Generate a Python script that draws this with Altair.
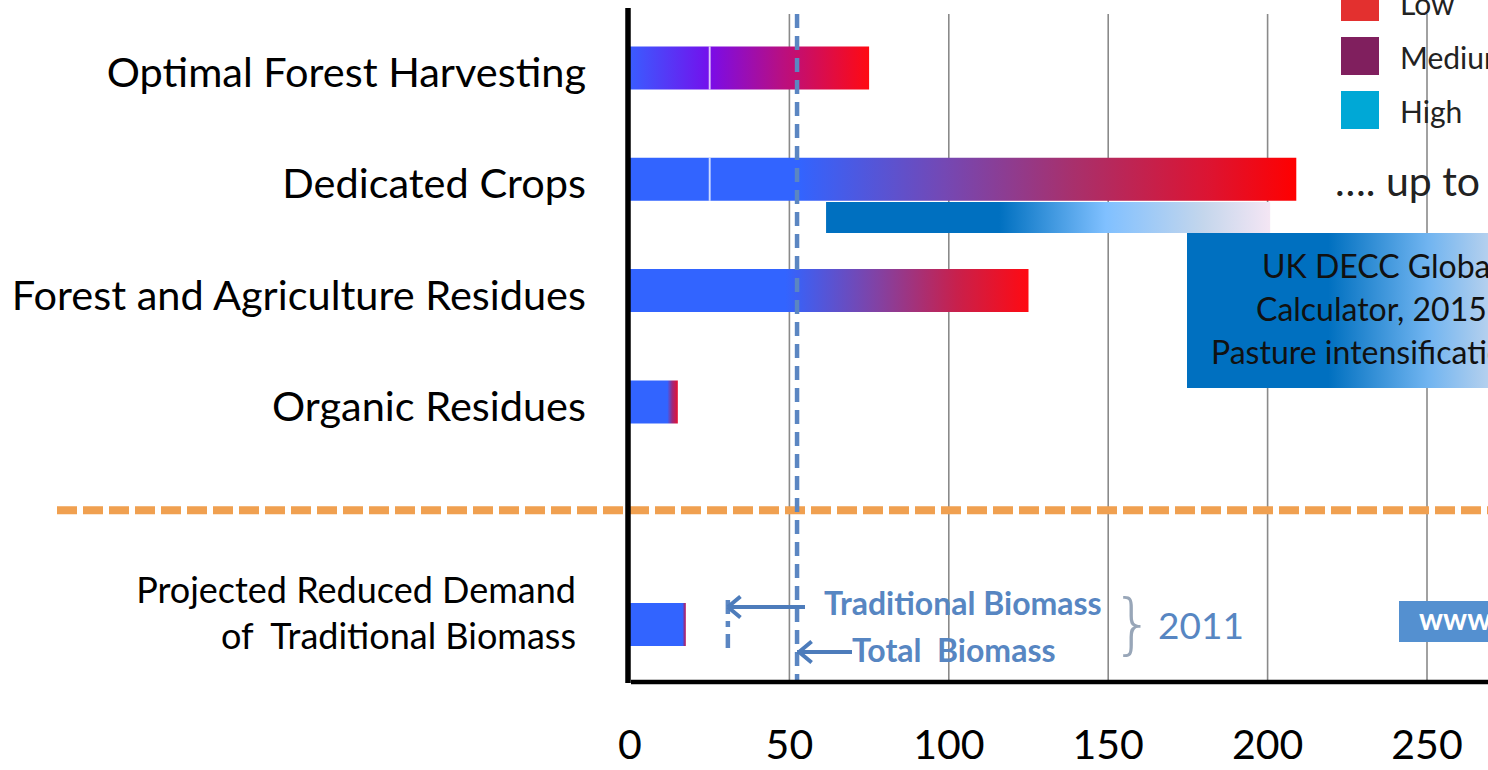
import altair as alt
import pandas as pd

# ---------------------------------------------------------------- data
categories = [
    "Optimal Forest Harvesting",
    "Dedicated Crops",
    "Forest and Agriculture Residues",
    "Organic Residues",
    " ",  # divider slot
    "Projected Reduced Demand of Traditional Biomass",
]
label_rows = categories[:4]
projected_row = categories[5]
divider_row = categories[4]

# bar segments (EJ/yr): row, start, end
seg_rows = [
    "Optimal Forest Harvesting", "Optimal Forest Harvesting",
    "Dedicated Crops", "Dedicated Crops",
    "Forest and Agriculture Residues",
    "Organic Residues",
    "Projected Reduced Demand of Traditional Biomass",
]
seg_start = [0, 25, 0, 25, 0, 0, 0]
seg_end = [25, 75, 25, 209, 125, 15, 17.5]

split_value = 25
split_rows = ["Optimal Forest Harvesting", "Dedicated Crops"]

traditional_biomass_2011 = 30.7
total_biomass_2011 = 52.4

decc_range = [61.5, 200.8]

tick_values = [0, 50, 100, 150, 200, 250]
tick_labels = ["0", "50", "100", "150", "200", "250"]

levels = ["Low", "Medium", "High"]
level_colors = ["#e3302f", "#801f5e", "#00a8d6"]

NBSP = "\u00a0"

# ---------------------------------------------------------------- styling
W, H = 1488, 770
ORIGIN = 630
PX_PER_UNIT = 3.188
FONT = "Lato"
BLUE_NOTE = "#5786c2"

BLUE = "#3264ff"
seg_stops = [
    [(0, "#3a5cff"), (1, "#7410ec")],
    [(0, "#7a0ce8"), (0.45, "#b80f82"), (1, "#ff0a12")],
    [(0, BLUE), (1, BLUE)],
    [(0, BLUE), (0.15, BLUE), (0.4, "#7448b4"), (0.62, "#a8306c"), (0.85, "#dc1432"), (1, "#ff0000")],
    [(0, BLUE), (0.39, BLUE), (0.62, "#8242a4"), (0.82, "#c8204c"), (1, "#ff0a12")],
    [(0, BLUE), (0.78, BLUE), (0.88, "#9a2a80"), (1, "#e81030")],
    [(0, BLUE), (0.94, BLUE), (1, "#c0104e")],
]


def grad(stops):
    return alt.LinearGradient(
        gradient="linear",
        stops=[alt.GradientStop(offset=o, color=c) for o, c in stops],
        x1=0, x2=1, y1=0, y2=0,
    )


x_scale = alt.Scale(
    domain=[-ORIGIN / PX_PER_UNIT, (W - ORIGIN) / PX_PER_UNIT],
    range=[0, W], nice=False, zero=False,
)
y_scale = alt.Scale(
    domain=categories, range=[12.35, 680.15],
    paddingInner=0.614, paddingOuter=0.307,
)
legend_scale = alt.Scale(
    domain=levels, range=[-25, 137], paddingInner=0.296, paddingOuter=0.148
)

X = lambda f: alt.X(f, scale=x_scale, axis=None)
Y = lambda f: alt.Y(f, scale=y_scale, axis=None)
one = pd.DataFrame({"k": [0]})

layers = []

# vertical grid lines
grid_df = pd.DataFrame({"tick": tick_values[1:]})
layers.append(
    alt.Chart(grid_df).mark_rule(color="#8a8a8a", strokeWidth=1.6).encode(
        x=X("tick:Q"), y=alt.value(14), y2=alt.value(681)
    )
)

# orange divider between supply potentials and demand reduction
layers.append(
    alt.Chart(pd.DataFrame({"row": [divider_row]})).mark_rule(
        color="#f0a050", strokeWidth=8, strokeDash=[20, 6], yOffset=-3
    ).encode(y=Y("row:N"), x=alt.value(57), x2=alt.value(W))
)

# gradient bars
for r, s, e, st in zip(seg_rows, seg_start, seg_end, seg_stops):
    df = pd.DataFrame({"row": [r], "start": [s], "end": [e]})
    layers.append(
        alt.Chart(df).mark_bar(color=grad(st)).encode(
            x=X("start:Q"), x2="end:Q", y=Y("row:N")
        )
    )

# thin white separators inside the first two bars
sep_df = pd.DataFrame({"row": split_rows, "v": [split_value] * 2})
layers.append(
    alt.Chart(sep_df).mark_tick(color="white", thickness=2, size=43, orient="vertical").encode(
        x=X("v:Q"), y=Y("row:N")
    )
)

# DECC range highlight and its box
decc_df = pd.DataFrame({"a": [decc_range[0]], "b": [decc_range[1]]})
layers.append(
    alt.Chart(decc_df).mark_rect(
        color=grad([(0, "#0070c0"), (0.39, "#0070c0"), (0.63, "#80c0ff"),
                    (0.85, "#c4d6ec"), (1, "#f4e6f4")])
    ).encode(x=X("a:Q"), x2="b:Q", y=alt.value(202), y2=alt.value(233))
)
layers.append(
    alt.Chart(one).mark_rect(
        color=grad([(0, "#0070c0"), (0.47, "#0070c0"), (0.8, "#70b4f0"), (1, "#b4d0ee")])
    ).encode(x=alt.value(1187), x2=alt.value(W), y=alt.value(233), y2=alt.value(388))
)
box_lines = ["UK DECC Global", "Calculator, 2015", "Pasture intensification"]
box_x = [1262, 1256, 1211]
box_y = [268, 311, 354]
for t, bx, by in zip(box_lines, box_x, box_y):
    layers.append(
        alt.Chart(one).mark_text(
            text=t, font=FONT, fontSize=32, color="#111111", align="left", baseline="middle"
        ).encode(x=alt.value(bx), y=alt.value(by))
    )

# 2011 biomass use markers
layers.append(
    alt.Chart(pd.DataFrame({"v": [total_biomass_2011]})).mark_rule(
        color="#5b86c2", strokeWidth=4.5, strokeDash=[14, 8]
    ).encode(x=X("v:Q"), y=alt.value(14), y2=alt.value(681))
)
layers.append(
    alt.Chart(pd.DataFrame({"v": [traditional_biomass_2011]})).mark_rule(
        color="#5b86c2", strokeWidth=4.5, strokeDash=[14, 7, 6, 7]
    ).encode(x=X("v:Q"), y=alt.value(600), y2=alt.value(652))
)

arrow_color = "#4d7cbb"
arrow_shape = "M0,0L1.2,-1M0,0L1.2,1"
# Traditional biomass arrow
layers.append(
    alt.Chart(pd.DataFrame({"a": [traditional_biomass_2011], "b": [total_biomass_2011]})).mark_rule(
        color=arrow_color, strokeWidth=4
    ).encode(x=X("a:Q"), x2=alt.value(805), y=alt.value(607))
)
layers.append(
    alt.Chart(pd.DataFrame({"a": [traditional_biomass_2011]})).mark_point(
        shape=arrow_shape, size=440, filled=False, color=arrow_color, strokeWidth=4, opacity=1
    ).encode(x=X("a:Q"), y=alt.value(607))
)
# Total biomass arrow
layers.append(
    alt.Chart(pd.DataFrame({"a": [total_biomass_2011]})).mark_rule(
        color=arrow_color, strokeWidth=4
    ).encode(x=X("a:Q"), x2=alt.value(852), y=alt.value(652))
)
layers.append(
    alt.Chart(pd.DataFrame({"a": [total_biomass_2011]})).mark_point(
        shape=arrow_shape, size=440, filled=False, color=arrow_color, strokeWidth=4, opacity=1, xOffset=2
    ).encode(x=X("a:Q"), y=alt.value(652))
)

notes = [
    ("Traditional Biomass", 824, 605, 32, "bold"),
    ("Total" + NBSP + NBSP + "Biomass", 852, 652, 32, "bold"),
    ("2011", 1158, 628, 37, "normal"),
]
for t, nx, ny, fs, fw in notes:
    layers.append(
        alt.Chart(one).mark_text(
            text=t, font=FONT, fontSize=fs, fontWeight=fw, color=BLUE_NOTE,
            align="left", baseline="middle"
        ).encode(x=alt.value(nx), y=alt.value(ny))
    )
layers.append(
    alt.Chart(one).mark_text(
        text="}", font="DejaVu Sans", fontSize=66, fontWeight=200, color="#98a6b8",
        align="left", baseline="middle"
    ).encode(x=alt.value(1112), y=alt.value(626))
)

# axis lines
layers.append(
    alt.Chart(one).mark_rule(color="black", strokeWidth=5.5).encode(
        x=alt.value(628), y=alt.value(8), y2=alt.value(683)
    )
)
layers.append(
    alt.Chart(one).mark_rule(color="black", strokeWidth=4.5).encode(
        x=alt.value(631), x2=alt.value(W), y=alt.value(682)
    )
)

# tick labels
tick_df = pd.DataFrame({"tick": tick_values, "label": tick_labels})
layers.append(
    alt.Chart(tick_df).mark_text(
        font=FONT, fontSize=41, color="black", baseline="middle"
    ).encode(x=X("tick:Q"), y=alt.value(747), text="label:N")
)

# category labels
cat_df = pd.DataFrame({"row": label_rows})
layers.append(
    alt.Chart(cat_df).mark_text(
        font=FONT, fontSize=41.5, color="black", align="right", baseline="middle", dy=7
    ).encode(x=alt.value(586), y=Y("row:N"), text="row:N")
)
proj_df = pd.DataFrame({"row": [projected_row],
                        "label": ["Projected Reduced Demand\nof" + NBSP + NBSP + "Traditional Biomass"]})
layers.append(
    alt.Chart(proj_df).mark_text(
        font=FONT, fontSize=36, color="black", align="right", baseline="middle",
        lineBreak="\n", lineHeight=46, dy=-33
    ).encode(x=alt.value(576), y=Y("row:N"), text="label:N")
)

# "up to" note
layers.append(
    alt.Chart(one).mark_text(
        text="…. up to", font=FONT, fontSize=41, color="#222222", align="left", baseline="middle"
    ).encode(x=alt.value(1335), y=alt.value(184))
)

# www badge
layers.append(
    alt.Chart(one).mark_rect(color="#5490d0").encode(
        x=alt.value(1399), x2=alt.value(W), y=alt.value(601), y2=alt.value(642)
    )
)
layers.append(
    alt.Chart(one).mark_text(
        text="www", font=FONT, fontSize=30, fontWeight="bold", color="white",
        align="left", baseline="middle"
    ).encode(x=alt.value(1419), y=alt.value(621))
)

# level legend
legend_df = pd.DataFrame({"level": levels, "color": level_colors})
layers.append(
    alt.Chart(legend_df).mark_rect().encode(
        x=alt.value(1341), x2=alt.value(1379),
        y=alt.Y("level:N", scale=legend_scale, axis=None),
        color=alt.Color("level:N", scale=alt.Scale(domain=levels, range=level_colors), legend=None),
    )
)
layers.append(
    alt.Chart(legend_df).mark_text(
        font=FONT, fontSize=30, color="#222222", align="left", baseline="middle", dy=4
    ).encode(
        x=alt.value(1400),
        y=alt.Y("level:N", scale=legend_scale, axis=None),
        text="level:N",
    )
)

chart = (
    alt.layer(*layers)
    .resolve_scale(y="independent")
    .properties(width=W, height=H, padding=0, autosize="none", background="white")
    .configure_view(stroke=None)
)

chart.save("out.html", embed_options={"renderer": "svg", "actions": False})
